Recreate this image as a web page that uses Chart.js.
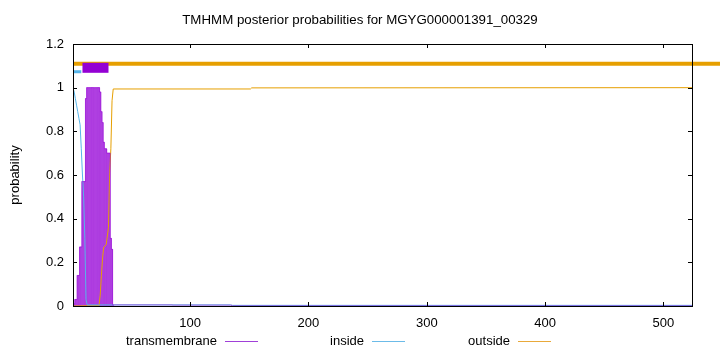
<!DOCTYPE html>
<html>
<head>
<meta charset="utf-8">
<title>TMHMM posterior probabilities</title>
<script src="https://cdn.jsdelivr.net/npm/chart.js@4.4.1/dist/chart.umd.min.js"></script>
<style>
  html, body { margin: 0; padding: 0; background: #fff; }
  #wrap { width: 720px; height: 352px; }
</style>
</head>
<body>
<div id="wrap"><canvas id="tmChart" width="720" height="352"></canvas></div>
<script>
// Series names (legend order)
const seriesNames = ['transmembrane', 'inside', 'outside'];
const chartTitle = 'TMHMM posterior probabilities for MGYG000001391_00329';

// Transmembrane posterior, residue by residue over the helix region
const tmResidues = [1, 2, 3, 4, 5, 6, 7, 8, 9, 10, 11, 12, 13, 14, 15, 16, 17, 18,
  19, 20, 21, 22, 23, 24, 25, 26, 27, 28, 29, 30, 31, 32, 33, 34, 35];
const tmProb = [0.01, 0.01, 0.03, 0.03, 0.14, 0.14, 0.27, 0.27, 0.57, 0.57, 0.57, 0.95,
  1, 1, 1, 1, 1, 1, 1, 1, 1, 1, 1,
  0.98, 0.89, 0.84, 0.75, 0.72, 0.72, 0.7, 0.7, 0.7, 0.31, 0.26, 0.005];
// tail of the transmembrane curve after the helix
const tmTailResidues = [36, 134, 136, 525];
const tmTailProb = [0.005, 0.004, 0.001, 0.001];

// Inside posterior
const insideResidues = [1, 2, 3, 4, 5, 6, 7, 8, 9, 10, 11, 12, 13, 134, 136, 525];
const insideProb = [1, 0.98, 0.95, 0.92, 0.89, 0.86, 0.83, 0.72, 0.6, 0.5, 0.31, 0.03,
  0.005, 0.005, 0.003, 0.003];

// Outside posterior
const outsideResidues = [1, 23, 24, 25, 26, 27, 29, 31, 32, 33, 34, 35, 151, 152, 525];
const outsideProb = [0, 0.002, 0.05, 0.14, 0.22, 0.27, 0.28, 0.36, 0.61, 0.72, 0.94,
  0.994, 0.994, 0.999, 1];

// Predicted topology segments [start, end]
const insideSegment = [1, 8];
const tmSegment = [9, 31];
const outsideSegment = [1, 548];

// Axis ticks
const xTicks = [100, 200, 300, 400, 500];
const yTicks = [0, 0.2, 0.4, 0.6, 0.8, 1, 1.2];

const FONT = '"Liberation Sans", Arial, Helvetica, sans-serif';
const colTM = 'rgba(148, 0, 211, 0.55)';
const colIn = '#56b4e9';
const colOut = '#e69f00';

function pts(xs, ys) {
  return xs.map((x, i) => ({ x: x, y: ys[i] }));
}
function band(seg, level) {
  return [{ x: seg[0], y: level }, { x: seg[1], y: level }];
}

const frame = {
  id: 'frame',
  afterDatasetsDraw(chart) {
    const { ctx, chartArea: a, scales } = chart;
    ctx.save();
    ctx.strokeStyle = '#000';
    ctx.lineWidth = 1;
    ctx.strokeRect(a.left + 0.5, a.top + 0.5, a.right - a.left - 1, a.bottom - a.top);
    ctx.beginPath();
    xTicks.forEach(v => {
      const px = Math.round(scales.x.getPixelForValue(v)) + 0.5;
      ctx.moveTo(px, a.bottom); ctx.lineTo(px, a.bottom - 4);
      ctx.moveTo(px, a.top); ctx.lineTo(px, a.top + 4);
    });
    yTicks.forEach(v => {
      const py = Math.round(scales.y.getPixelForValue(v)) + 0.5;
      ctx.moveTo(a.left, py); ctx.lineTo(a.left + 4, py);
      ctx.moveTo(a.right - 1, py); ctx.lineTo(a.right - 5, py);
    });
    ctx.stroke();
    ctx.restore();
  },
  afterDraw(chart) {
    const ctx = chart.ctx;
    ctx.save();
    // title, centred on the page like gnuplot does
    ctx.fillStyle = '#000';
    ctx.font = '13.3px ' + FONT;
    ctx.textAlign = 'center';
    ctx.textBaseline = 'middle';
    ctx.fillText(chartTitle, 360, 20);
    // gnuplot-style key: text then line sample
    const textRight = [217, 364, 510];
    const colours = ['#a040d8', '#6cbbe8', '#e9a93a'];
    ctx.font = '13px ' + FONT;
    ctx.textAlign = 'right';
    seriesNames.forEach((name, i) => {
      ctx.fillStyle = '#000';
      ctx.fillText(name, textRight[i], 341);
      ctx.strokeStyle = colours[i];
      ctx.lineWidth = 1;
      ctx.beginPath();
      ctx.moveTo(textRight[i] + 8, 341.5);
      ctx.lineTo(textRight[i] + 41, 341.5);
      ctx.stroke();
    });
    ctx.restore();
  }
};

const ctx = document.getElementById('tmChart').getContext('2d');
const tmChart = new Chart(ctx, {
  type: 'line',
  data: {
    datasets: [
      {
        label: seriesNames[0],
        data: pts(tmResidues.concat(tmTailResidues), tmProb.concat(tmTailProb)),
        borderColor: colTM,
        borderWidth: 1,
        stepped: 'middle',
        pointRadius: 0,
        order: 0
      },
      {
        label: seriesNames[1],
        data: pts(insideResidues, insideProb),
        borderColor: colIn,
        borderWidth: 1,
        pointRadius: 0,
        tension: 0,
        order: 1
      },
      {
        label: seriesNames[2],
        data: pts(outsideResidues, outsideProb),
        borderColor: colOut,
        borderWidth: 1,
        pointRadius: 0,
        tension: 0,
        order: 2
      },
      {
        type: 'bar',
        label: 'tm-fill',
        data: pts(tmResidues, tmProb),
        backgroundColor: 'rgba(168, 48, 222, 0.88)',
        borderWidth: 0,
        barPercentage: 1,
        categoryPercentage: 1,
        order: 3
      },
      {
        label: 'TMhelix',
        data: band(tmSegment, 1.091),
        borderColor: '#9400d3',
        borderWidth: 10,
        pointRadius: 0,
        order: 4
      },
      {
        label: 'inside-band',
        data: band(insideSegment, 1.073),
        borderColor: colIn,
        borderWidth: 3,
        pointRadius: 0,
        order: 5
      },
      {
        label: 'outside-band',
        data: band(outsideSegment, 1.11),
        borderColor: colOut,
        borderWidth: 4,
        pointRadius: 0,
        clip: false,
        order: 6
      }
    ]
  },
  options: {
    responsive: false,
    animation: false,
    devicePixelRatio: 1,
    layout: { padding: { left: 0, right: 27, top: 44, bottom: 0 } },
    plugins: {
      legend: { display: false },
      tooltip: { enabled: false },
      title: { display: false }
    },
    scales: {
      x: {
        type: 'linear',
        min: 1,
        max: 525,
        offset: false,
        afterBuildTicks: s => { s.ticks = xTicks.map(v => ({ value: v })); },
        afterFit: s => { s.height = 46; },
        grid: { display: false, drawTicks: false, offset: false },
        border: { display: false },
        ticks: {
          color: '#000',
          font: { family: FONT, size: 13 },
          padding: 10,
          maxRotation: 0,
          autoSkip: false
        }
      },
      y: {
        type: 'linear',
        min: 0,
        max: 1.2,
        afterBuildTicks: s => { s.ticks = yTicks.map(v => ({ value: v })); },
        afterFit: s => { s.width = 73; },
        grid: { display: false, drawTicks: false },
        border: { display: false },
        title: {
          display: true,
          text: 'probability',
          color: '#000',
          font: { family: FONT, size: 13 },
          padding: { top: 8, bottom: 0 }
        },
        ticks: {
          color: '#000',
          font: { family: FONT, size: 13 },
          padding: 9,
          callback: v => String(v)
        }
      }
    }
  },
  plugins: [frame]
});
</script>
</body>
</html>
